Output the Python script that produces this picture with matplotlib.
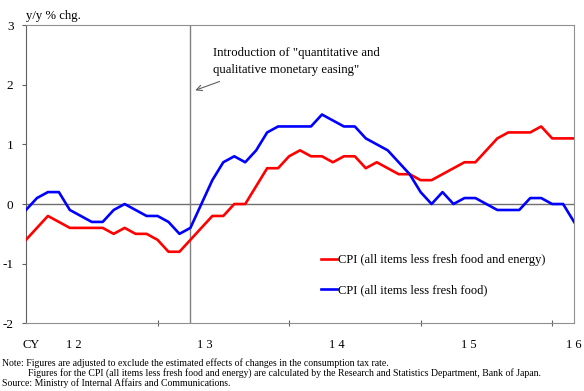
#!/usr/bin/python3
import numpy as np
import matplotlib
matplotlib.use('Agg')
import matplotlib.pyplot as plt

plt.rcParams['font.family'] = ['Liberation Serif', 'DejaVu Serif']
plt.rcParams['axes.unicode_minus'] = False

# Monthly y/y % change, Jan 2012 - Mar 2016 (tax effects excluded).
months = np.arange(51)
cpi_core_core = [-0.6, -0.4, -0.2, -0.3, -0.4, -0.4, -0.4, -0.4, -0.5, -0.4,
                 -0.5, -0.5, -0.6, -0.8, -0.8, -0.6, -0.4, -0.2, -0.2, 0.0,
                 0.0, 0.3, 0.6, 0.6, 0.8, 0.9, 0.8, 0.8, 0.7, 0.8,
                 0.8, 0.6, 0.7, 0.6, 0.5, 0.5, 0.4, 0.4, 0.5, 0.6,
                 0.7, 0.7, 0.9, 1.1, 1.2, 1.2, 1.2, 1.3, 1.1, 1.1,
                 1.1]
cpi_core = [-0.1, 0.1, 0.2, 0.2, -0.1, -0.2, -0.3, -0.3, -0.1, 0.0,
            -0.1, -0.2, -0.2, -0.3, -0.5, -0.4, 0.0, 0.4, 0.7, 0.8,
            0.7, 0.9, 1.2, 1.3, 1.3, 1.3, 1.3, 1.5, 1.4, 1.3,
            1.3, 1.1, 1.0, 0.9, 0.7, 0.5, 0.2, 0.0, 0.2, 0.0,
            0.1, 0.1, 0.0, -0.1, -0.1, -0.1, 0.1, 0.1, 0.0, 0.0,
            -0.3]
year_starts = [12, 24, 36, 48]
year_label_pos = [0.45, 4.4, 16.3, 28.4, 40.4, 50]
year_labels = ['CY', '1 2', '1 3', '1 4', '1 5', '1 6']
qqe_month = 15  # April 2013

fig = plt.figure(figsize=(5.84, 3.91), dpi=100)
ax = fig.add_axes([0.0445, 0.173, 0.9385, 0.763])

ax.axhline(0, color='#707070', lw=1.0, zorder=1)
ax.axvline(qqe_month, color='#808080', lw=1.0, zorder=1)

ax.plot(months, cpi_core_core, color='#ff0000', lw=1.9,
        label='CPI (all items less fresh food and energy)', zorder=3)
ax.plot(months, cpi_core, color='#0000ff', lw=1.9,
        label='CPI (all items less fresh food)', zorder=3)

ax.set_xlim(0, 50)
ax.set_ylim(-2, 3)
ax.set_yticks([-2, -1, 0, 1, 2, 3])
ax.tick_params(axis='y', direction='out', length=3, color='#606060',
               labelsize=9.5, pad=6)
ax.set_xticks(year_starts)
ax.set_xticklabels([])
ax.tick_params(axis='x', which='major', direction='inout', length=5,
               color='#606060')
ax.set_xticks(year_label_pos, minor=True)
ax.set_xticklabels(year_labels, minor=True)
ax.tick_params(axis='x', which='minor', length=0, labelsize=9, pad=11)

for side in ['top', 'right', 'bottom']:
    ax.spines[side].set_color('#909090')
ax.spines['left'].set_color('#606060')

ax.text(0, 3.05, 'y/y % chg.', fontsize=9.2, ha='left', va='bottom')

ax.annotate('', xy=(15.2, 1.89), xytext=(17.9, 2.07),
            arrowprops=dict(arrowstyle='->', color='#606060', lw=0.8))
ax.text(17.06, 2.39, 'Introduction of "quantitative and\nqualitative monetary easing"',
        fontsize=9.2, ha='left', va='center', linespacing=1.5)

ax.legend(loc='upper left', bbox_to_anchor=(0.527, 0.253), frameon=False,
          fontsize=9, handlelength=1.3, handletextpad=0.05,
          labelspacing=1.42, borderpad=0)

fig.text(0.004, 1 - 363 / 391,
         'Note: Figures are adjusted to exclude the estimated effects of changes in the consumption tax rate.',
         fontsize=7, ha='left', va='center')
fig.text(28 / 584, 1 - 373 / 391,
         'Figures for the CPI (all items less fresh food and energy) are calculated by the Research and Statistics Department, Bank of Japan.',
         fontsize=7, ha='left', va='center')
fig.text(0.004, 1 - 383 / 391,
         'Source: Ministry of Internal Affairs and Communications.',
         fontsize=7, ha='left', va='center')

plt.savefig('out.png')
